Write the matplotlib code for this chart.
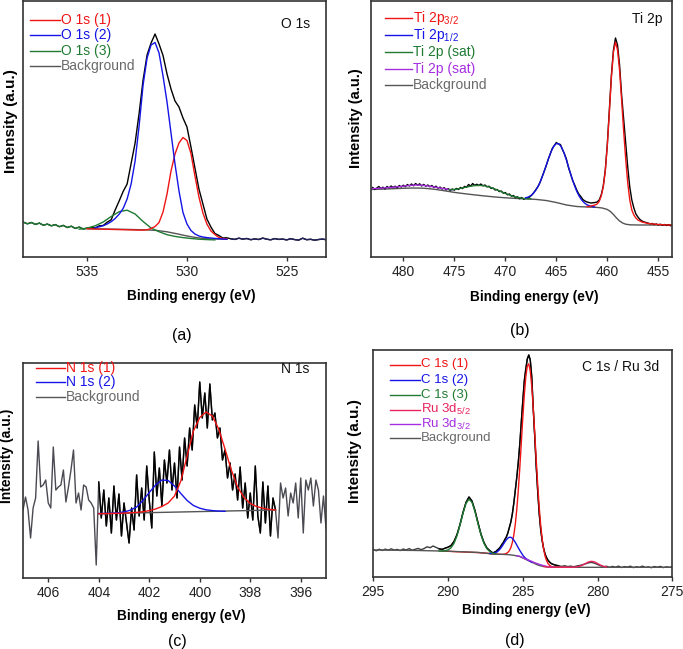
import numpy as np
import matplotlib
matplotlib.use("Agg")
import matplotlib.pyplot as plt
from matplotlib.lines import Line2D

plt.rcParams['font.family'] = ['Liberation Sans', 'DejaVu Sans']
plt.rcParams['mathtext.default'] = 'regular'

# ======================= DATA (binding energy eV / intensity a.u.) =======================
# ---- (a) O 1s : raw spectrum on a 0.2 eV grid starting at 538.2 eV
o_raw_start, o_raw_step = 538.2, 0.2
o_raw = [34.8, 33.2, 34.5, 32.6, 33.9, 31.8, 32.9, 31.2, 32.4, 30.3, 31.6, 29.5, 30.8, 28.6, 29.9, 28.0, 28.8,
         29.5, 28.9, 31.2, 31.5, 34.8, 37.2, 47, 56, 65.5, 73, 93.5, 114, 143.5, 177, 202, 214, 223, 213,
         201.5, 183, 168, 156, 150, 139, 130, 110, 89, 68, 53, 38, 30, 23.5, 21.5, 19, 19.2,
         18.2, 17.6, 18.8, 17.9, 18.5, 17.3, 18.1, 17.5, 18.9, 17.8, 17.2, 18.4, 17.6, 17.9, 17.1, 18.3,
         17.4, 16.9, 18.8, 17.3, 17.7, 16.8, 17.5, 17.9, 17.2]
o_c1_start, o_c1_step = 535.0, 0.2   # O 1s (1)
o_c1 = [28.2, 28.1, 28.0, 27.9, 27.8, 27.7, 27.6, 27.5, 27.4, 27.3, 27.2, 27.1, 27.0, 26.9, 26.9, 27.2,
        28.5, 30.5, 34.5, 45, 63, 86, 103, 114, 119.5, 116.5, 103.5, 81, 60, 44, 33, 26, 22.5, 19.5, 18.5, 18]
o_c2_start, o_c2_step = 534.6, 0.2   # O 1s (2)
o_c2 = [29.3, 30.2, 31.3, 33, 35.3, 38.5, 42.8, 48.5, 58, 73, 96, 131, 172, 199, 212, 214.5, 204, 181,
        155, 124, 93, 66, 44.5, 33, 26.5, 23, 21, 20, 19.4, 19, 18.6, 18.3, 18, 17.7]
o_c3_start, o_c3_step = 535.4, 0.4   # O 1s (3)
o_c3 = [27.8, 28.9, 31.2, 35, 40.5, 45.3, 46.8, 43, 35.5, 29, 25.3, 22.3, 20.6, 19.4, 18.5, 17.8, 17.4, 17.1]
o_bg_x = [535.0, 533.0, 532.0, 531.5, 531.0, 530.5, 530.0, 529.5, 529.0, 528.0]
o_bg = [28.3, 27.6, 27.1, 26.5, 25.2, 23.2, 21, 19.3, 18.2, 17.7]

# ---- (b) Ti 2p
t_raw_start, t_raw_step = 483.0, 0.2
t_raw = [69.5, 67.5, 69, 70.5, 68.5, 69.8, 68, 70.5, 69, 71, 69.5, 70.8, 69.2, 71.5, 70, 71.8, 70.3, 72.5,
         71, 73, 71.2, 73.5, 71.8, 73.2, 71, 72.6, 70.8, 72, 70.2, 71.5, 69.5, 70.8, 68.8, 69.9, 68, 69.3,
         67.2, 68.4, 66.5, 68, 66.8, 68.6, 67.5, 69.5, 68.4, 70.6, 69.8, 72.5, 70.9, 73.5, 71.6, 72.8,
         71.5, 73, 71.2, 72, 70.1, 70.8, 68.6, 69, 67, 67.5, 65.4, 66, 63.8, 64.5, 62.2, 63, 60.8, 61.5,
         59.4, 60.2, 58.2, 59.5, 57.8, 59, 58.6, 60.2,
         62, 64.5, 67.5, 70.5, 74.5, 80, 85.5, 91, 97.5, 103, 108.5, 111.5, 114.5, 113, 112.5, 107.5, 103,
         97.5, 89, 83, 76.5, 72, 67, 63, 60.5, 57.5, 56, 55, 54.5, 54, 54.2, 54.5, 55, 57, 62, 71, 87, 113,
         147, 182, 207, 219, 212, 192, 162, 138, 113, 90, 70, 57, 49, 43, 40, 37.5, 36, 35, 34.5, 33.8,
         33.2, 33.5, 32.4, 33, 32, 32.8, 31.7, 32.5, 31.5, 32.3, 31.2, 32, 31.5]
t_p32_x = [462.0, 461.8, 461.6, 461.4, 461.2, 461.0, 460.8, 460.6, 460.4, 460.2, 460.0, 459.8, 459.6,
           459.4, 459.2, 459.0, 458.8, 458.6, 458.4, 458.2, 458.0, 457.8, 457.6, 457.4, 457.2, 457.0,
           456.6, 456.0, 455.0, 454.0, 453.4]
t_p32 = [50.5, 50.5, 51, 51.5, 52, 53, 55.5, 61, 70, 86, 112, 145, 180, 205, 215, 207, 187, 157, 126, 98,
         74, 57, 47, 42, 39, 37, 35, 33.5, 32.5, 32, 32]
t_p12_start, t_p12_step = 468.0, 0.25
t_p12 = [59.2, 60, 61.4, 63.7, 67, 71.3, 77.1, 84, 91.4, 98.9, 105.7, 110.8, 113.5, 113.2, 109.9, 104.2,
         96.5, 88.3, 79.9, 72.3, 65.7, 60.6, 56.8, 54.1, 52.3, 51.2, 50.5, 50.0]
t_sat1_start, t_sat1_step = 475.5, 0.5
t_sat1 = [67.3, 67.6, 68.4, 69.5, 70.6, 71.4, 71.6, 71.1, 69.8, 67.9, 65.7, 63.6, 61.6, 60, 58.9, 58.3, 58.2]
t_sat2_start, t_sat2_step = 483.2, 0.5
t_sat2 = [68.2, 68.5, 68.8, 69.2, 69.6, 70.1, 70.6, 71.2, 71.7, 72, 71.8, 71.2, 70.4, 69.5, 68.6, 67.8, 67.2]
t_bg_x = [483.2, 482, 481, 480, 479, 478, 477, 476, 475, 474, 473, 472, 471, 470, 469, 468, 467, 466, 465,
          464, 463, 462, 461, 460.5, 460, 459.7, 459.4, 459.1, 458.8, 458.5, 458.2, 457.8, 457, 455, 453.4]
t_bg = [67.5, 67.9, 68.3, 68.7, 69, 68.8, 67.8, 66.3, 64.6, 63.3, 62.1, 61, 60, 59.2, 58.6, 58.1, 57.6,
        56.5, 54.5, 52, 50.5, 50, 49.6, 49, 47.5, 45.5, 42.5, 39, 36, 34, 32.8, 32.2, 32, 32, 32]

# ---- (c) N 1s : raw on 0.1 eV grid from 407.0 eV
n_raw_start, n_raw_step = 407.0, 0.1
n_raw = [68, 81, 68, 40, 70, 80, 137, 91, 93, 98, 75, 70, 131, 88, 91, 93, 108, 76, 91, 108, 128, 75, 85,
         68, 93, 91, 78, 75, 70, 13, 96,
         60, 88, 52, 80, 45, 92, 58, 84, 42, 75, 55, 35, 70, 48, 103, 62, 90, 58, 112, 78, 50, 126, 82, 110,
         72, 118, 95, 128, 88, 115, 80, 131, 98, 140, 112, 150, 128, 173, 150, 196, 160, 185, 150, 194,
         158, 165, 140, 150, 118, 128, 100, 115, 88, 104, 78, 111, 70, 95, 60, 85, 58, 112, 62, 45, 96, 55,
         92, 42, 80,
         68, 40, 95, 80, 90, 62, 85, 75, 95, 60, 100, 45, 98, 88, 100, 72, 98, 88, 55, 82, 50]
n_c1_start, n_c1_step = 404.0, 0.25
n_c1 = [64.3, 64.4, 64.5, 64.7, 64.9, 65.2, 65.6, 66.3, 67.3, 69, 71.5, 75, 82, 97, 122, 147, 160.5, 166,
        162, 149, 129, 108, 91, 80.5, 74.5, 71.5, 69.8, 68.6, 68]
n_c2_start, n_c2_step = 404.0, 0.25
n_c2 = [64.5, 64.6, 64.8, 65.2, 66, 67.8, 71, 77.5, 85.5, 93, 98, 97.5, 92, 84.5, 77.5, 72.5, 69.8, 68.2,
        67.4, 66.9, 66.7]
n_bg_x = [404.0, 397.0]
n_bg = [64.3, 68.0]

# ---- (d) C 1s / Ru 3d : raw in three grid segments
c_raw1_start, c_raw1_step = 295.0, 0.2
c_raw1 = [27.5, 26.2, 27.8, 26.5, 27.9, 26.8, 28.2, 26.9, 27.6, 26.4, 28, 27, 28.4, 26.8, 27.7, 28.6, 27.3,
          28.5, 30.2, 29.3, 31, 29.6, 28.2, 27.6, 28.8, 29.8, 31.5, 35.5, 42.5, 52.5, 64.5, 74.5, 80, 76,
          66.5, 54.5, 43, 34.5, 29, 26.2]
c_raw2_start, c_raw2_step = 287.0, 0.1
c_raw2 = [24, 24.8, 25.5, 27, 28.3, 30, 32.5, 34.5, 37.5, 40, 44, 49.5, 55, 63, 74, 87, 100, 115, 133, 155,
          176, 196, 208, 218, 222, 217, 200, 168, 140, 110, 85, 63, 47, 36, 28, 22.5, 19, 16.5, 14.8,
          13.5, 12.8]
c_raw3_start, c_raw3_step = 282.8, 0.2
c_raw3 = [11.8, 11.2, 10.6, 11.3, 10.4, 10.9, 10.2, 11, 11.5, 12.3, 13.2, 14.2, 14.6, 13.8, 12.5, 11.3,
          10.1, 10.8, 9.6, 10.6, 9.8, 10.9, 9.5, 10.4, 9.9, 10.8, 9.4, 10.3, 9.7, 10.9, 9.6, 10.2, 9.3,
          10.5, 9.8, 10.6, 9.4, 10.2, 9.7, 10.3]
c_c1_x = [290.4, 289.6, 288.8, 288.0, 287.4] + [round(287.0 - 0.1 * i, 1) for i in range(41)] + [282.6, 282.0]
c_c1 = [26, 25.4, 24.9, 24.4, 23.8,
        23, 22.9, 22.9, 22.8, 22.8, 22.7, 22.7, 22.7, 23, 23.6, 24.6, 26.3, 29.4, 34.4, 42, 53.1, 68, 87,
        109.4, 134.3, 159, 182, 200, 211, 213.2, 206, 190.5, 168.7, 143.2, 116.7, 91.4, 69.3, 51.3, 37.4,
        27.3, 20.4, 16, 13.2, 11.6, 10.6, 10.2,
        9.8, 9.7]
c_c2_start, c_c2_step = 287.2, 0.1
c_c2 = [23.6, 23.6, 23.5, 23.8, 24.5, 25.3, 26.7, 28.3, 30.4, 32.7, 35.1, 37.2, 38.9, 39.7, 39.7, 38.7,
        36.9, 34.6, 31.9, 29.2, 26.5, 24.2, 21.8, 20, 18.6, 17.5, 16.5, 15.6, 14.8]
c_c3_start, c_c3_step = 290.6, 0.2
c_c3 = [26, 26, 26.3, 27.1, 29.2, 33.7, 41.3, 52, 63.7, 73.5, 77.8, 74.7, 65.6, 53.5, 42.3, 33.7, 28.2,
        25.3, 23.6, 23.1]
c_ru52_start, c_ru52_step = 283.6, 0.2
c_ru52 = [10.5, 10.1, 9.9, 9.8, 9.8, 9.7, 9.7, 9.7, 9.7, 9.7, 9.8, 10.1, 10.7, 11.9, 13.5, 15.1, 15.7,
          15.1, 13.5, 11.9, 10.7, 10.1]
c_ru32_start, c_ru32_step = 285.4, 0.2
c_ru32 = [21.3, 20.6, 19.4, 18, 16.8, 15.6, 14.3, 13.2, 12.2, 11.3, 10.6, 10.1, 9.8]
c_bg_x = [295, 292, 290, 288, 287, 286, 285.6, 285.2, 285.0, 284.8, 284.6, 284.4, 284.2, 284.0, 283.8,
          283.6, 283.4, 283.0, 282, 275]
c_bg = [27, 26.5, 25.8, 24.6, 23, 22.4, 21.7, 20.5, 19, 17.6, 16.2, 14.8, 13.4, 12, 11.1, 10.5, 10.1, 9.8,
        9.7, 9.7]

# tick values
a_ticks = [535, 530, 525]
b_ticks = [480, 475, 470, 465, 460, 455]
c_ticks = [406, 404, 402, 400, 398, 396]
d_ticks = [295, 290, 285, 280, 275]

# ======================= STYLE / LAYOUT =======================
RED = '#f01414'
BLUE = '#1414e6'
GREEN = '#1f7a32'
PURPLE = '#a52ee0'
CRIMSON = '#e8245e'
GRAY = '#555555'
GTEXT = '#6a6a6a'
LW = 1.0

W, H = 683, 649
fig = plt.figure(figsize=(W / 100, H / 100), dpi=100)


def grid(start, step, n):
    return start - step * np.arange(n)


def make_axes(box, xlim, ylim, ticks):
    l, t, r, b = box
    ax = fig.add_axes([l / W, 1 - b / H, (r - l) / W, (b - t) / H])
    ax.set_xlim(*xlim)
    ax.set_ylim(*ylim)
    ax.set_xticks(ticks)
    ax.set_xticklabels([str(v) for v in ticks])
    ax.set_yticks([])
    ax.tick_params(axis='x', direction='out', length=3, width=1, colors='#333333',
                   labelcolor='#222222', labelsize=10, pad=3)
    for s in ax.spines.values():
        s.set_color('#333333')
        s.set_linewidth(1.2)
    return ax


def legend(ax, box, entries, x0, x1, ys, fs=10):
    l, t, r, b = box
    for (label, lc, tc), y in zip(entries, ys):
        fy = (b - y) / (b - t)
        ax.add_line(Line2D([(x0 - l) / (r - l), (x1 - l) / (r - l)], [fy, fy], transform=ax.transAxes,
                           color=lc, lw=LW, clip_on=False))
        ax.text((x1 + 1 - l) / (r - l), fy, label, color=tc, transform=ax.transAxes,
                va='center', ha='left', fontsize=fs)


def ftext(x, y, s, **kw):
    fig.text(x / W, 1 - y / H, s, ha='center', va='center', **kw)


# ---------------- (a) ----------------
A = (23, 1, 326, 257)
ax = make_axes(A, (538.22, 523.03), (0, 256), a_ticks)
ox = grid(o_raw_start, o_raw_step, len(o_raw))
oy = np.array(o_raw)
ax.plot(o_bg_x, o_bg, color=GRAY, lw=LW)
ax.plot(ox, oy, color='black', lw=LW)
ax.plot(ox[:18], oy[:18], color=GREEN, lw=LW)
ax.plot(ox[52:], oy[52:], color='#22225e', lw=LW)
ax.plot(grid(o_c3_start, o_c3_step, len(o_c3)), o_c3, color=GREEN, lw=LW)
ax.plot(grid(o_c1_start, o_c1_step, len(o_c1)), o_c1, color=RED, lw=LW)
ax.plot(grid(o_c2_start, o_c2_step, len(o_c2)), o_c2, color=BLUE, lw=LW)
legend(ax, A, [('O 1s (1)', RED, RED), ('O 1s (2)', BLUE, BLUE), ('O 1s (3)', GREEN, GREEN),
               ('Background', GRAY, GTEXT)], 30, 60, [20, 35.3, 50.6, 65.9])
ftext(296, 23.5, 'O 1s', fontsize=10, color='#111111')
ftext(191, 296, 'Binding energy (eV)', fontsize=9.8, fontweight='bold')
ftext(11, 121, 'Intensity (a.u.)', fontsize=11, fontweight='bold', rotation=90)
ftext(181.5, 335, '(a)', fontsize=11.5)

# ---------------- (b) ----------------
B = (371, 1, 672, 257)
ax = make_axes(B, (483.17, 453.66), (0, 256), b_ticks)
ax.plot(t_bg_x, t_bg, color=GRAY, lw=LW)
ax.plot(grid(t_raw_start, t_raw_step, len(t_raw)), t_raw, color='black', lw=LW)
ax.plot(grid(t_sat2_start, t_sat2_step, len(t_sat2)), t_sat2, color=PURPLE, lw=LW)
ax.plot(grid(t_sat1_start, t_sat1_step, len(t_sat1)), t_sat1, color=GREEN, lw=LW)
ax.plot(grid(t_p12_start, t_p12_step, len(t_p12)), t_p12, color=BLUE, lw=LW)
ax.plot(t_p32_x, t_p32, color=RED, lw=LW)
legend(ax, B, [('Ti 2p$_{3/2}$', RED, RED), ('Ti 2p$_{1/2}$', BLUE, BLUE), ('Ti 2p (sat)', GREEN, GREEN),
               ('Ti 2p (sat)', PURPLE, PURPLE), ('Background', GRAY, GTEXT)],
       385, 412, [18.3, 35, 52.2, 68.8, 85.3])
ftext(647.5, 18.5, 'Ti 2p', fontsize=10, color='#111111')
ftext(534, 296.5, 'Binding energy (eV)', fontsize=9.8, fontweight='bold')
ftext(356, 118, 'Intensity (a.u.)', fontsize=10.6, fontweight='bold', rotation=90)
ftext(520, 331, '(b)', fontsize=11.5)

# ---------------- (c) ----------------
C = (23, 363, 326, 578)
ax = make_axes(C, (407.0, 395.0), (0, 215), c_ticks)
nx = grid(n_raw_start, n_raw_step, len(n_raw))
ny = np.array(n_raw)
ax.plot(nx, ny, color='#4a4a52', lw=LW)
ax.plot(nx[30:101], ny[30:101], color='black', lw=LW)
ax.plot(n_bg_x, n_bg, color=GRAY, lw=LW)
ax.plot(grid(n_c2_start, n_c2_step, len(n_c2)), n_c2, color=BLUE, lw=LW)
ax.plot(grid(n_c1_start, n_c1_step, len(n_c1)), n_c1, color=RED, lw=LW)
legend(ax, C, [('N 1s (1)', RED, RED), ('N 1s (2)', BLUE, BLUE), ('Background', GRAY, GTEXT)],
       36, 65, [368, 382.5, 397])
ftext(295, 369, 'N 1s', fontsize=10, color='#111111')
ftext(181.5, 616, 'Binding energy (eV)', fontsize=9.8, fontweight='bold')
ftext(7.5, 456, 'Intensity (a.u.)', fontsize=10, fontweight='bold', rotation=90)
ftext(177, 641.5, '(c)', fontsize=11.5)

# ---------------- (d) ----------------
D = (373.3, 350, 672.3, 577)
ax = make_axes(D, (295, 275), (0, 227), d_ticks)
cx = np.concatenate([grid(c_raw1_start, c_raw1_step, len(c_raw1)),
                     grid(c_raw2_start, c_raw2_step, len(c_raw2)),
                     grid(c_raw3_start, c_raw3_step, len(c_raw3))])
cy = np.array(c_raw1 + c_raw2 + c_raw3)
ax.plot(cx, cy, color='#3c3c3c', lw=LW)
mid = (cx <= 290.6) & (cx >= 282.6)
ax.plot(cx[mid], cy[mid], color='black', lw=LW)
ax.plot(c_c1_x, c_c1, color=RED, lw=LW)
ax.plot(c_bg_x, c_bg, color=GRAY, lw=LW)
ax.plot(grid(c_c2_start, c_c2_step, len(c_c2)), c_c2, color=BLUE, lw=LW)
ax.plot(grid(c_c3_start, c_c3_step, len(c_c3)), c_c3, color=GREEN, lw=LW)
ax.plot(grid(c_ru32_start, c_ru32_step, len(c_ru32)), c_ru32, color=PURPLE, lw=LW)
ax.plot(grid(c_ru52_start, c_ru52_step, len(c_ru52)), c_ru52, color=CRIMSON, lw=LW)
legend(ax, D, [('C 1s (1)', RED, RED), ('C 1s (2)', BLUE, BLUE), ('C 1s (3)', GREEN, GREEN),
               ('Ru 3d$_{5/2}$', CRIMSON, CRIMSON), ('Ru 3d$_{3/2}$', PURPLE, PURPLE),
               ('Background', GRAY, GTEXT)],
       390, 420, [364.5, 380, 395, 409.5, 424, 437.5], fs=9.5)
ftext(621, 367, 'C 1s / Ru 3d', fontsize=10, color='#111111')
ftext(526, 610, 'Binding energy (eV)', fontsize=9.8, fontweight='bold')
ftext(355.5, 451, 'Intensity (a.u.)', fontsize=11, fontweight='bold', rotation=90)
ftext(515, 640, '(d)', fontsize=11.5)

fig.savefig('out.png', dpi=100)
